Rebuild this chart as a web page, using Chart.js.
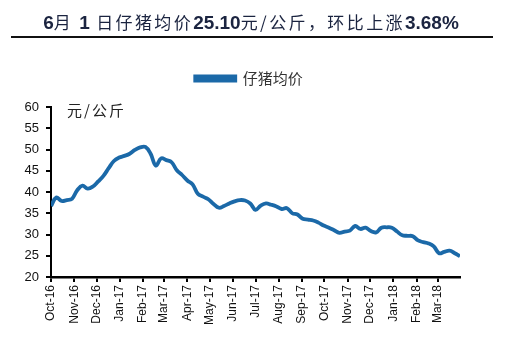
<!DOCTYPE html>
<html>
<head>
<meta charset="utf-8">
<script src="https://cdn.jsdelivr.net/npm/chart.js@4.4.1/dist/chart.umd.min.js"></script>
<style>
  body { margin: 0; background: #fff; }
  #wrap { position: relative; width: 520px; height: 340px; }
  #title {
    position: absolute; left: 0; top: 9px; width: 502px; text-align: center;
    font-family: "Noto Sans CJK SC", sans-serif; font-size: 17px; letter-spacing: 2.4px;
    color: #1b2440; white-space: nowrap;
  }
  #title b { font-family: "Liberation Sans", Arial, sans-serif; font-weight: bold; font-size: 19px; letter-spacing: 0; }
  #rule { position: absolute; left: 11px; top: 36px; width: 482px; height: 2px; background: #111; }
  #unit {
    position: absolute; left: 67px; top: 99px;
    font-family: "Noto Sans CJK SC", sans-serif; font-size: 15px; letter-spacing: 2px; color: #222;
  }
  canvas { position: absolute; left: 0; top: 0; }
</style>
</head>
<body>
<div id="wrap">
  <canvas id="pig" width="520" height="340"></canvas>
  <div id="title"><b>6</b>月 <b>1</b> 日仔猪均价<b>25.10</b>元/公斤，环比上涨<b>3.68%</b></div>
  <div id="rule"></div>
  <div id="unit">元/公斤</div>
</div>
<script>
// weekly piglet price, yuan/kg, starting 2016-10-01
var weekStep = 7;
var prices = [
  36.7, 38.7, 37.9, 38.1, 38.4, 40.4, 41.5, 40.8, 41.3, 42.5,
  43.8, 45.6, 47.3, 48.1, 48.5, 49.0, 49.9, 50.5, 50.6, 49.0,
  46.2, 47.9, 47.5, 47.0, 45.1, 44.0, 42.7, 41.8, 39.6, 38.9,
  38.3, 37.2, 36.3, 36.7, 37.3, 37.8, 38.1, 38.0, 37.3, 35.8,
  36.8, 37.3, 37.0, 36.6, 36.0, 36.2, 35.0, 34.7, 33.7, 33.5,
  33.3, 32.8, 32.1, 31.6, 31.0, 30.4, 30.7, 30.9, 32.0, 31.3,
  31.6, 30.8, 30.5, 31.6, 31.7, 31.6, 30.7, 29.8, 29.7, 29.6,
  28.6, 28.2, 27.9, 27.2, 25.6, 25.9, 26.2, 25.6, 24.9
];
// day offsets of month starts from 2016-10-01
var monthDays = [0, 31, 61, 92, 123, 151, 182, 212, 243, 273, 304, 335, 365, 396, 426, 457, 488, 516];
var monthLabels = ['Oct-16', 'Nov-16', 'Dec-16', 'Jan-17', 'Feb-17', 'Mar-17', 'Apr-17', 'May-17', 'Jun-17',
  'Jul-17', 'Aug-17', 'Sep-17', 'Oct-17', 'Nov-17', 'Dec-17', 'Jan-18', 'Feb-18', 'Mar-18'];
var yTicks = [20, 25, 30, 35, 40, 45, 50, 55, 60];
var seriesName = '仔猪均价';

var points = prices.map(function (p, i) { return { x: i * weekStep, y: p }; });
var lastDay = (prices.length - 1) * weekStep;

// extra room under the legend, and nudge it right so it sits over the middle of the plot
var legendGap = {
  id: 'legendGap',
  beforeInit: function (chart) {
    var fit = chart.legend.fit;
    chart.legend.fit = function () {
      fit.bind(chart.legend)();
      this.height += 11;
    };
  },
  afterLayout: function (chart) {
    chart.legend.left += 19;
    chart.legend.right += 19;
  }
};

var ctx = document.getElementById('pig').getContext('2d');
var pigChart = new Chart(ctx, {
  type: 'line',
  data: {
    datasets: [{
      label: seriesName,
      data: points,
      borderColor: '#1b69a8',
      backgroundColor: '#1b69a8',
      borderWidth: 3.8,
      pointRadius: 0,
      tension: 0.4
    }]
  },
  options: {
    responsive: false,
    animation: false,
    layout: { padding: { top: 61, left: 0, right: 60, bottom: 12 } },
    plugins: {
      legend: {
        position: 'top',
        labels: {
          boxWidth: 40,
          boxHeight: 4,
          padding: 10,
          color: '#333',
          font: { family: '"Noto Sans CJK SC", sans-serif', size: 15 }
        }
      },
      tooltip: { enabled: false }
    },
    scales: {
      x: {
        type: 'linear',
        min: 0,
        max: lastDay,
        afterBuildTicks: function (axis) {
          axis.ticks = monthDays.map(function (d) { return { value: d }; });
        },
        afterFit: function (s) { s.height = 51; },
        grid: { drawOnChartArea: false, drawTicks: true, tickLength: 5, color: '#000', lineWidth: 2 },
        border: { display: true, color: '#000', width: 2.5 },
        ticks: {
          autoSkip: false,
          minRotation: 90,
          maxRotation: 90,
          padding: 3,
          color: '#111',
          font: { family: '"Liberation Sans", Arial, sans-serif', size: 12 },
          callback: function (v) {
            var k = monthDays.indexOf(v);
            return k >= 0 ? monthLabels[k] : '';
          }
        }
      },
      y: {
        min: yTicks[0],
        max: yTicks[yTicks.length - 1],
        afterBuildTicks: function (axis) {
          axis.ticks = yTicks.map(function (v) { return { value: v }; });
        },
        afterFit: function (s) { s.width = 51; },
        grid: { drawOnChartArea: false, drawTicks: true, tickLength: 5, color: '#000', lineWidth: 2 },
        border: { display: true, color: '#000', width: 2 },
        ticks: {
          padding: 7,
          color: '#111',
          font: { family: '"Liberation Sans", Arial, sans-serif', size: 13 }
        }
      }
    }
  },
  plugins: [legendGap]
});
</script>
</body>
</html>
